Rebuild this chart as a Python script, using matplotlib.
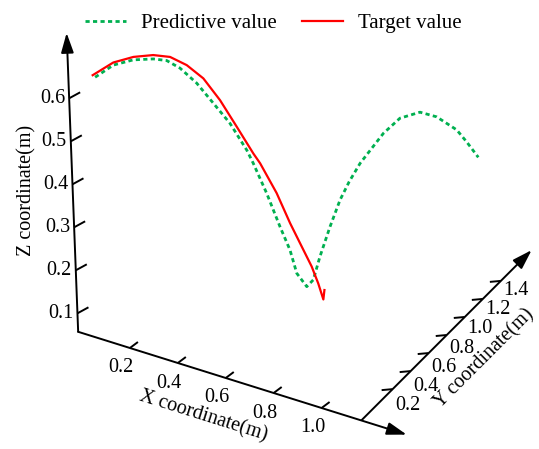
import matplotlib
matplotlib.use('Agg')
import matplotlib.pyplot as plt
from matplotlib.lines import Line2D
import numpy as np

# ---------------- data (metres) ----------------
target_x = [0.008, 0.097, 0.183, 0.267, 0.338, 0.407, 0.475, 0.542, 0.608, 0.674,
            0.701, 0.766, 0.818, 0.857, 0.902, 0.927, 0.946, 0.952]
target_y = [0.2] * 18
target_z = [0.616, 0.661, 0.689, 0.708, 0.716, 0.709, 0.690, 0.651, 0.601, 0.550,
            0.532, 0.474, 0.413, 0.373, 0.327, 0.292, 0.258, 0.281]

pred_x = [0.018, 0.097, 0.182, 0.267, 0.323, 0.378, 0.446, 0.513, 0.580, 0.647,
          0.672, 0.724, 0.775, 0.813, 0.838, 0.878,
          0.887, 0.887, 0.899, 0.914, 0.936, 0.965, 1.009, 1.042, 1.088, 1.126,
          1.173, 1.197, 1.228]
pred_y = [0.2] * 16 + [0.25, 0.33, 0.42, 0.50, 0.55, 0.60, 0.75, 0.85, 0.95, 1.03,
                       1.12, 1.16, 1.20]
pred_z = [0.613, 0.655, 0.682, 0.699, 0.705, 0.697, 0.674, 0.639, 0.604, 0.553,
          0.527, 0.466, 0.397, 0.350, 0.300, 0.276,
          0.283, 0.320, 0.373, 0.421, 0.457, 0.494, 0.540, 0.560, 0.561, 0.540,
          0.499, 0.467, 0.428]

x_ticks = [0.2, 0.4, 0.6, 0.8, 1.0]
y_ticks = [0.2, 0.4, 0.6, 0.8, 1.0, 1.2, 1.4]
z_ticks = [0.1, 0.2, 0.3, 0.4, 0.5, 0.6]
x_tick_labels = ['0.2', '0.4', '0.6', '0.8', '1.0']
y_tick_labels = ['0.2', '0.4', '0.6', '0.8', '1.0', '1.2', '1.4']
z_tick_labels = ['0.1', '0.2', '0.3', '0.4', '0.5', '0.6']

series_labels = ['Predictive value', 'Target value']
axis_labels = ['X coordinate(m)', 'Y coordinate(m)', 'Z coordinate(m)']

# ---------------- oblique projection (canvas units) ----------------
ORIGIN = (82.0, 333.0)
Z_BASE = 0.057
EX = (239.6, 75.0)
EY = (90.2, -90.2)
EZ = (-16.6, -430.0)

X_RANGE = (-0.016, 1.355)          # x axis drawn at y=0, z=Z_BASE
Z_RANGE = (Z_BASE, 0.752)          # z axis drawn at x=-0.016, y=0
Y_RANGE = (-0.14, 1.741)           # y axis drawn at x=1.224, z=0.098
Y_AXIS_X, Y_AXIS_Z = 1.224, 0.098


def proj(x, y, z):
    x = np.asarray(x, float)
    y = np.asarray(y, float)
    z = np.asarray(z, float)
    u = ORIGIN[0] + EX[0] * x + EY[0] * y + EZ[0] * (z - Z_BASE)
    v = ORIGIN[1] + EX[1] * x + EY[1] * y + EZ[1] * (z - Z_BASE)
    return u, v


plt.rcParams['font.family'] = ['Liberation Serif', 'DejaVu Serif']
FS = 14.5

fig = plt.figure(figsize=(5.39, 4.49), dpi=100)
ax = fig.add_axes([0, 0, 1, 1])
ax.set_xlim(0, 539)
ax.set_ylim(449, 0)
ax.axis('off')

AX_LW = 1.4
arrow_kw = dict(arrowstyle='-|>,head_length=1.0,head_width=0.32', lw=AX_LW,
                color='black', shrinkA=0, shrinkB=0, mutation_scale=12)


def axis_arrow(p0, p1):
    ax.annotate('', xy=p1, xytext=p0, xycoords='data', arrowprops=arrow_kw)


# Z axis
z0 = proj(X_RANGE[0], 0, Z_RANGE[0])
z1 = proj(X_RANGE[0], 0, Z_RANGE[1])
axis_arrow(z0, z1)
# X axis
x0 = proj(X_RANGE[0], 0, Z_BASE)
x1 = proj(X_RANGE[1], 0, Z_BASE)
axis_arrow(x0, x1)
# Y axis
y0 = proj(Y_AXIS_X, Y_RANGE[0], Y_AXIS_Z)
y1 = proj(Y_AXIS_X, Y_RANGE[1], Y_AXIS_Z)
axis_arrow(y0, y1)

# ticks + labels
for t, lab in zip(z_ticks, z_tick_labels):
    u, v = proj(X_RANGE[0], 0, t)
    ax.plot([u, u + 11], [v, v - 6], color='black', lw=AX_LW, solid_capstyle='butt')
    ax.text(u - 4, v, lab, ha='right', va='center', fontsize=FS)

for t, lab in zip(x_ticks, x_tick_labels):
    u, v = proj(t, 0, Z_BASE)
    ax.plot([u, u + 8], [v, v - 6], color='black', lw=AX_LW, solid_capstyle='butt')
    ax.text(u - 9, v + 20, lab, ha='center', va='center', fontsize=FS)

for t, lab in zip(y_ticks, y_tick_labels):
    u, v = proj(Y_AXIS_X, t, Y_AXIS_Z)
    ax.plot([u, u - 11], [v, v + 1], color='black', lw=AX_LW, solid_capstyle='butt')
    dy = 16 - 6 * (t - 0.2) / 1.2
    ax.text(u + 15, v + dy, lab, ha='center', va='center', fontsize=FS)

# axis titles
ax.text(203, 416, axis_labels[0], rotation=-17.4, rotation_mode='anchor',
        ha='center', va='center', fontsize=FS)
ax.text(484, 359, axis_labels[1], rotation=45, rotation_mode='anchor',
        ha='center', va='center', fontsize=FS)
ax.text(27, 190, axis_labels[2], rotation=90, rotation_mode='anchor',
        ha='center', va='center', fontsize=FS)

# curves
GREEN = '#00b050'
RED = '#ff0000'
pu, pv = proj(pred_x, pred_y, pred_z)
ax.plot(pu, pv, color=GREEN, lw=2.0, linestyle=(0, (1.5, 1.2)),
        dash_capstyle='butt', zorder=3)
tu, tv = proj(target_x, target_y, target_z)
ax.plot(tu, tv, color=RED, lw=1.6, zorder=4, solid_joinstyle='round')

handles = [Line2D([], [], color=GREEN, lw=2.0, linestyle=(0, (1.5, 1.2))),
           Line2D([], [], color=RED, lw=1.6)]
fig.legend(handles, series_labels, loc='center', ncol=2, frameon=False,
           bbox_to_anchor=(273 / 539, 1 - 23 / 449), bbox_transform=fig.transFigure,
           fontsize=15, handlelength=2.0, handletextpad=0.7, columnspacing=1.2,
           borderpad=0, borderaxespad=0)

fig.savefig('out.png', dpi=100)
